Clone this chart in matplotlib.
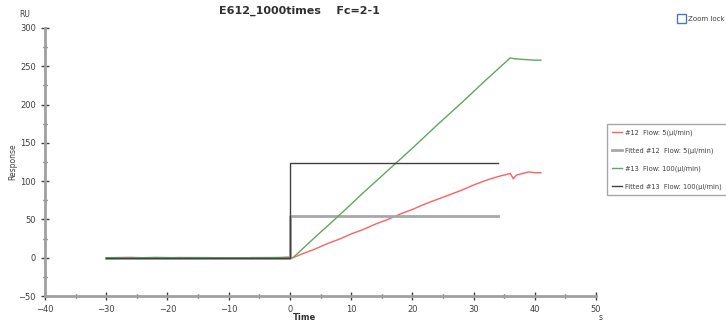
import matplotlib.pyplot as plt
from matplotlib.patches import Rectangle

# sensorgram data
t12 = [-30, -26, -22, -18, -14, -10, -6, -2, 0, 0.5, 2, 4, 6, 8, 10, 12, 14, 16, 18, 20,
       22, 24, 26, 28, 30, 32, 34, 35, 36, 36.5, 37, 38, 39, 40, 41]
r12 = [0, 0.5, -0.5, 0.3, 0, -0.4, 0.2, 0, 1, 0, 5, 11, 18, 24, 31, 37, 44, 50, 57, 63,
       70, 76, 82, 88, 95, 101, 106, 108, 110, 103, 108, 110, 112, 111, 111]

t13 = [-30, -26, -22, -18, -14, -10, -6, -2, 0, 0.5, 4, 8, 12, 16, 20, 24, 28, 32, 36,
       36.5, 38, 40, 41]
r13 = [0, -0.3, 0.4, 0, 0.2, -0.2, 0, 0.3, 0, 0, 26, 55, 85, 114, 143, 173, 202, 232, 261,
       260, 259, 258, 258]

tfit = [-30, 0, 0, 34]
fit12 = [0, 0, 55, 55]
fit13 = [0, 0, 124, 124]

labels = ['#12  Flow: 5(\u00b5l/min)', 'Fitted #12  Flow: 5(\u00b5l/min)',
          '#13  Flow: 100(\u00b5l/min)', 'Fitted #13  Flow: 100(\u00b5l/min)']

fig = plt.figure(figsize=(7.26, 3.24), dpi=100)
ax = fig.add_axes([0.062, 0.0864, 0.759, 0.8272])

h1, = ax.plot(t12, r12, color='#ff6060', lw=1, label=labels[0])
h2, = ax.plot(tfit, fit12, color='#a8a8a8', lw=2, label=labels[1])
h3, = ax.plot(t13, r13, color='#5fa85f', lw=1, label=labels[2])
h4, = ax.plot(tfit, fit13, color='#404040', lw=1, label=labels[3])

ax.set_xlim(-40, 50)
ax.set_ylim(-50, 300)
ax.set_xticks(range(-40, 51, 10))
ax.set_xticks(range(-35, 50, 10), minor=True)
ax.set_yticks(range(-50, 301, 50))
ax.set_yticks(range(-25, 300, 50), minor=True)
for s in ['top', 'right']:
    ax.spines[s].set_visible(False)
for s in ['left', 'bottom']:
    ax.spines[s].set_color('#a0a0a0')
    ax.spines[s].set_linewidth(2)
ax.tick_params(which='major', direction='inout', length=6, width=1, color='#404040',
               labelsize=6, labelcolor='#404040')
ax.tick_params(which='minor', direction='inout', length=3, width=1, color='#404040')

fig.text(0.413, 0.965, 'E612_1000times    Fc=2-1', ha='center', va='center',
         fontsize=8, fontweight='bold', color='#303030')
fig.text(0.034, 0.955, 'RU', ha='center', va='center', fontsize=5.5, color='#404040')
fig.text(0.017, 0.5, 'Response', ha='center', va='center', rotation=90,
         fontsize=5.5, color='#404040')
fig.text(0.42, 0.02, 'Time', ha='center', va='center', fontsize=6,
         fontweight='bold', color='#303030')
fig.text(0.827, 0.02, 's', ha='center', va='center', fontsize=5.5, color='#404040')

# zoom lock checkbox
fig.patches.append(Rectangle((0.9325, 0.928), 0.0125, 0.028, transform=fig.transFigure,
                             fill=False, edgecolor='#4a78b0', lw=1))
fig.text(0.948, 0.942, 'Zoom lock', ha='left', va='center', fontsize=5, color='#404040')

leg = fig.legend(handles=[h1, h2, h3, h4], loc='upper left',
                 bbox_to_anchor=(0.836, 0.618), fontsize=4.8, frameon=True,
                 fancybox=False, handlelength=1.5, labelspacing=1.75,
                 borderpad=0.8, handletextpad=0.4, borderaxespad=0)
leg.get_frame().set_edgecolor('#909090')
leg.get_frame().set_linewidth(1)
for t in leg.get_texts():
    t.set_color('#404040')

fig.savefig('out.png', dpi=100)
